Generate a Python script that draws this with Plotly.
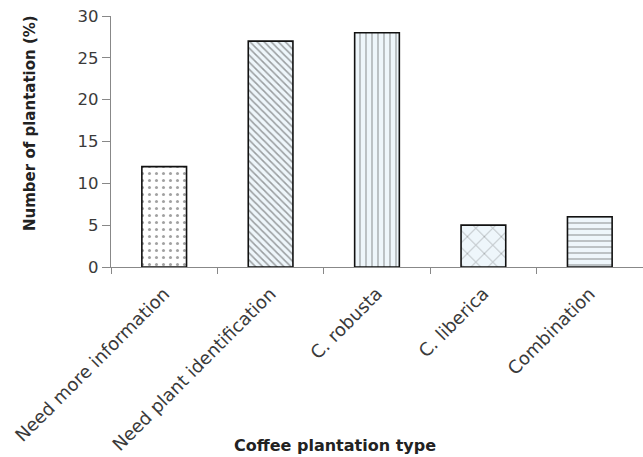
import plotly.graph_objects as go

categories = ["Need more information", "Need plant identification", "C. robusta", "C. liberica", "Combination"]
values = [12, 27, 28, 5, 6]
shapes = [".", "\\", "|", "x", "-"]
pattern_sizes = [7, 5, 6, 12, 6]
pattern_solidity = [0.15, 0.3, 0.2, 0.12, 0.2]
pattern_colors = ["#555555", "#4a7ea8", "#3a8fc0", "#4a7ea8", "#3a80b8"]
bg_colors = ["#ffffff", "#eef6fb", "#eef6fb", "#eef6fb", "#eef6fb"]

fig = go.Figure()
fig.add_trace(go.Bar(
    x=categories, y=values, width=0.42,
    marker=dict(
        color=bg_colors,
        line=dict(color="#111111", width=1.6),
        pattern=dict(shape=shapes, fgcolor=pattern_colors, bgcolor=bg_colors,
                     size=pattern_sizes, solidity=pattern_solidity, fillmode="overlay"),
    ),
))

L, R, T, B = 111, 0, 16, 190
W, H = 643, 457
pw = W - L - R
ph = H - T - B
y0 = H - B

fig.update_layout(
    width=W, height=H,
    margin=dict(l=L, r=R, t=T, b=B, autoexpand=False),
    paper_bgcolor="white", plot_bgcolor="white",
    showlegend=False,
    font=dict(family="DejaVu Sans, Verdana, sans-serif", size=16, color="#333333"),
    annotations=[
        dict(text="<b>Coffee plantation type</b>", x=(335 - L) / pw, y=(y0 - 445) / ph,
             xref="paper", yref="paper", showarrow=False,
             font=dict(size=16, color="#222222"), xanchor="center", yanchor="middle"),
        dict(text="<b>Number of plantation (%)</b>", x=(30 - L) / pw, y=(y0 - 123) / ph,
             xref="paper", yref="paper", textangle=-90, showarrow=False,
             font=dict(size=15, color="#222222"), xanchor="center", yanchor="middle"),
    ],
)

fig.update_xaxes(
    type="category", tickangle=-45, showline=True, linecolor="#888888", linewidth=1.2,
    ticks="outside", tickson="boundaries", ticklen=6, tickcolor="#888888",
    ticklabelstandoff=8,
    showgrid=False, automargin=False, tickfont=dict(size=18, color="#3a3a3a"),
)
fig.update_yaxes(
    range=[0, 30], dtick=5, showline=True, linecolor="#888888", linewidth=1.2,
    ticks="outside", ticklen=8, tickcolor="#888888", showgrid=False, zeroline=False,
    automargin=False, tickfont=dict(size=16.5, color="#3a3a3a"),
)
fig.write_html("out.html", config={"displayModeBar": False},
               post_script="document.body.style.margin='0';document.body.style.padding='0';")
